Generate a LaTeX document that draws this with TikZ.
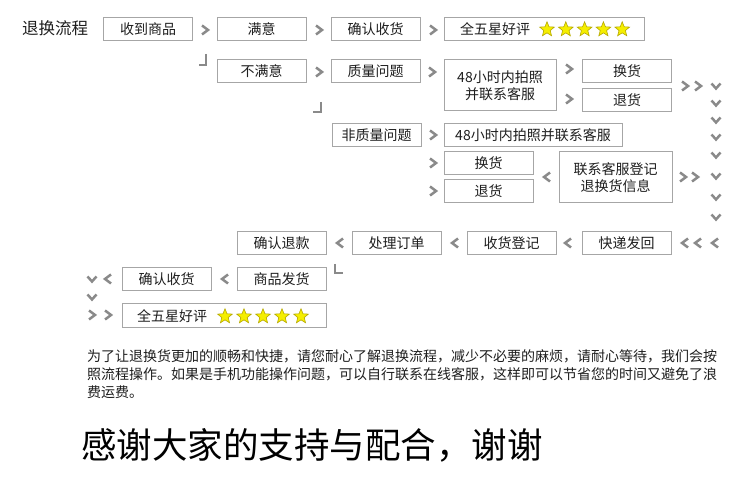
\documentclass[tikz,border=0pt]{standalone}
\usepackage{fontspec}
\setmainfont{Noto Sans CJK SC}
\usetikzlibrary{shapes.geometric}
\definecolor{boxline}{HTML}{A6A6A6}
\definecolor{chev}{HTML}{8A8A8A}
\definecolor{staryellow}{HTML}{F5EE00}
\definecolor{staredge}{HTML}{B5A800}
\definecolor{txt}{HTML}{1E1E1E}
\tikzset{
  flowbox/.style={draw=boxline, line width=1pt, fill=white, minimum width=89pt,
    minimum height=23pt, inner sep=0pt, font=\fontsize{14}{17}\selectfont, align=center, text=txt},
  chevpath/.style={draw=chev, line width=2.5pt, line join=miter},
  staricon/.style={star, star points=5, star point ratio=2.3, minimum size=15.5pt,
    inner sep=0pt, fill=staryellow, draw=staredge, line width=0.6pt},
  rchev/.pic={\draw[chevpath] (-3,-4.5)--(3,0)--(-3,4.5);},
  lchev/.pic={\draw[chevpath] (3,-4.5)--(-3,0)--(3,4.5);},
  dchev/.pic={\draw[chevpath] (-4.5,-2.5)--(0,2.5)--(4.5,-2.5);},
  bodytext/.style={anchor=west, inner sep=0pt, font=\fontsize{14}{17}\selectfont, text=txt},
}
\begin{document}
\begin{tikzpicture}[x=1pt, y=-1pt]
\useasboundingbox[fill=white] (0,0) rectangle (750,494);

% title
\node[inner sep=0pt, font=\fontsize{16.5}{18}\selectfont, text=txt] (title) at (55,28) {退换流程};

% row 1
\node[flowbox] (receive) at (148,29) {收到商品};
\node[flowbox] (ok) at (261.5,29) {满意};
\node[flowbox] (confirm1) at (375.5,29) {确认收货};
\node[flowbox, minimum width=200pt] (rate1) at (544,29) {};
\node[anchor=west, inner sep=0pt, font=\fontsize{14}{16}\selectfont, text=txt] (rate1t) at (460,29.5) {全五星好评};
\foreach \i in {0,...,4} \node[staricon] (sa\i) at (547+18.8*\i,29.5) {};
\pic at (205,30) {rchev};
\pic at (319,30) {rchev};
\pic at (433,30) {rchev};

% row 2
\node[flowbox] (notok) at (261.5,71.5) {不满意};
\node[flowbox] (quality) at (375.5,71.5) {质量问题};
\node[flowbox, minimum width=112pt, minimum height=51pt] (photo1) at (500,85.5) {48小时内拍照\\并联系客服};
\node[flowbox] (swap1) at (627,71.5) {换货};
\node[flowbox] (ret1) at (627,100) {退货};
\pic at (319,72) {rchev};
\pic at (432,72) {rchev};
\pic at (569,69) {rchev};
\pic at (569,99) {rchev};
\pic at (685,86) {rchev};
\pic at (698,86) {rchev};
\draw[chevpath] (206,54)--(206,65)--(199,65);
\draw[chevpath] (321,102)--(321,112)--(313,112);

% right column of down chevrons
\foreach \yy in {86,103,120,137,155,176,197,217} \pic at (716,\yy) {dchev};

% row 3
\node[flowbox] (nonquality) at (376.5,135) {非质量问题};
\node[flowbox, minimum width=178pt] (photo2) at (533,135) {48小时内拍照并联系客服};
\node[flowbox] (swap2) at (488.5,163.5) {换货};
\node[flowbox] (ret2) at (488.5,191) {退货};
\node[flowbox, minimum width=113pt, minimum height=51pt] (register) at (615.5,177.5) {联系客服登记\\退换货信息};
\pic at (433,135) {rchev};
\pic at (433,163) {rchev};
\pic at (433,191) {rchev};
\pic at (547,177) {lchev};
\pic at (683,177) {rchev};
\pic at (695,177) {rchev};

% row 4
\node[flowbox] (express) at (626.5,243.5) {快递发回};
\node[flowbox] (recvreg) at (511.5,243.5) {收货登记};
\node[flowbox] (process) at (396.5,243.5) {处理订单};
\node[flowbox] (refund) at (281.5,243.5) {确认退款};
\pic at (685,243) {lchev};
\pic at (698,243) {lchev};
\pic at (715,243) {lchev};
\pic at (568,243) {lchev};
\pic at (455,243) {lchev};
\pic at (340,243) {lchev};
\draw[chevpath] (335,264)--(335,273)--(343,273);

% row 5
\node[flowbox] (ship) at (281.5,279) {商品发货};
\node[flowbox] (confirm2) at (166.5,279) {确认收货};
\pic at (225,279) {lchev};
\pic at (108,279) {lchev};
\pic at (92,279) {dchev};
\pic at (92,297) {dchev};
\pic at (92,315) {rchev};
\pic at (108,315) {rchev};
\node[flowbox, minimum width=204pt, minimum height=24pt] (rate2) at (224,316) {};
\node[anchor=west, inner sep=0pt, font=\fontsize{14}{16}\selectfont, text=txt] (rate2t) at (137,316.5) {全五星好评};
\foreach \i in {0,...,4} \node[staricon] (sb\i) at (225+19*\i,316.5) {};

% paragraph
\node[bodytext] (p1) at (87,356) {为了让退换货更加的顺畅和快捷，请您耐心了解退换流程，减少不必要的麻烦，请耐心等待，我们会按};
\node[bodytext] (p2) at (87,374) {照流程操作。如果是手机功能操作问题，可以自行联系在线客服，这样即可以节省您的时间又避免了浪};
\node[bodytext] (p3) at (87,392) {费运费。};

% thanks
\node[anchor=west, inner sep=0pt, font=\fontsize{35.5}{40}\selectfont, text=black] (thanks) at (81,445) {感谢大家的支持与配合，谢谢};
\end{tikzpicture}
\end{document}
